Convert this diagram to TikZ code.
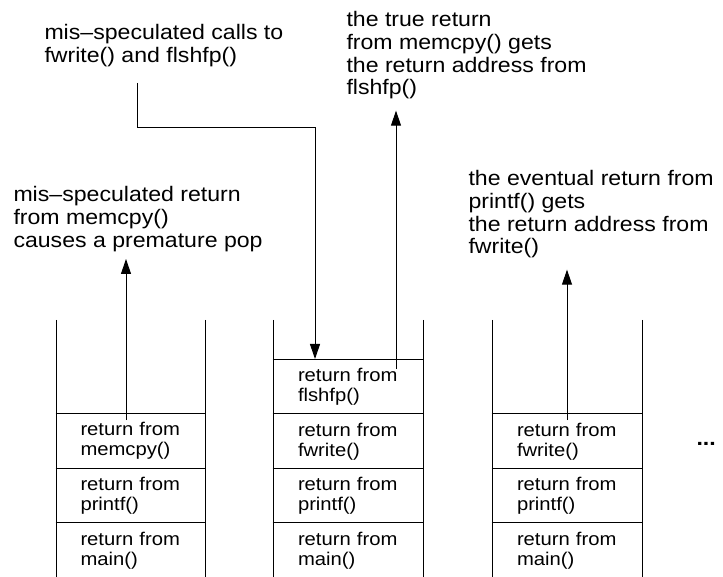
\documentclass[tikz,border=0pt]{standalone}
\usepackage{fontspec}
\setmainfont[FakeStretch=1.1]{Liberation Sans}
\usetikzlibrary{arrows.meta,calc}
\newcommand\annfont{\fontsize{21}{22.7}\selectfont}
\newcommand\cellfont{\fontsize{18.4}{20}\selectfont}
\begin{document}
\begin{tikzpicture}[x=1pt,y=-1pt,line width=1pt,
  ann/.style={anchor=north west,inner sep=0pt,align=left,font=\annfont},
  cell/.style={rectangle,inner sep=0pt,minimum height=54.5pt,text width=100pt,align=left,font=\cellfont},
  arr/.style={-{Triangle[length=15pt,width=10pt]}}]
\useasboundingbox (0,0) rectangle (723,577);
% annotations
\node[ann] (annTL) at (44,24) {mis--speculated calls to\\fwrite() and flshfp()};
\node[ann] (annTM) at (346,11) {the true return\\from memcpy() gets\\the return address from\\flshfp()};
\node[ann] (annLM) at (13,186) {mis--speculated return\\from memcpy()\\causes a premature pop};
\node[ann] (annRM) at (468,170) {the eventual return from\\printf() gets\\the return address from\\fwrite()};
% left stack
\node[cell,minimum width=149pt] (L1) at (130.5,441.25) {return from\\memcpy()};
\node[cell,minimum width=149pt] (L2) at (130.5,495.75) {return from\\printf()};
\node[cell,minimum width=149pt] (L3) at (130.5,550.25) {return from\\main()};
\draw (56,320) -- (56,577) (205,320) -- (205,577);
\foreach \c in {L1,L2,L3} \draw (\c.north west) -- (\c.north east);
% middle stack
\node[cell,minimum width=150pt] (M0) at (348,386.75) {return from\\flshfp()};
\node[cell,minimum width=150pt] (M1) at (348,441.25) {return from\\fwrite()};
\node[cell,minimum width=150pt] (M2) at (348,495.75) {return from\\printf()};
\node[cell,minimum width=150pt] (M3) at (348,550.25) {return from\\main()};
\draw (273,320) -- (273,577) (423,320) -- (423,577);
\foreach \c in {M0,M1,M2,M3} \draw (\c.north west) -- (\c.north east);
% right stack
\node[cell,minimum width=150pt] (R1) at (567,441.25) {return from\\fwrite()};
\node[cell,minimum width=150pt] (R2) at (567,495.75) {return from\\printf()};
\node[cell,minimum width=150pt] (R3) at (567,550.25) {return from\\main()};
\draw (492,320) -- (492,577) (642,320) -- (642,577);
\foreach \c in {R1,R2,R3} \draw (\c.north west) -- (\c.north east);
\node[anchor=base west,inner sep=0pt,font=\fontsize{21}{22}\selectfont\bfseries] (dots) at (696,445) {...};
% connectors
\coordinate (la) at (126,420);
\draw[arr,shorten >=7pt] (la) -- (la |- annLM.south);
\coordinate (md) at (137,83);
\coordinate (mdbend) at (315,128);
\draw[arr] (md) |- (mdbend) -- (mdbend |- M0.north);
\coordinate (mu) at (396,369);
\draw[arr,shorten >=11pt] (mu) -- (mu |- annTM.south);
\coordinate (ru) at (567,420);
\draw[arr,shorten >=11pt] (ru) -- (ru |- annRM.south);
\end{tikzpicture}
\end{document}
